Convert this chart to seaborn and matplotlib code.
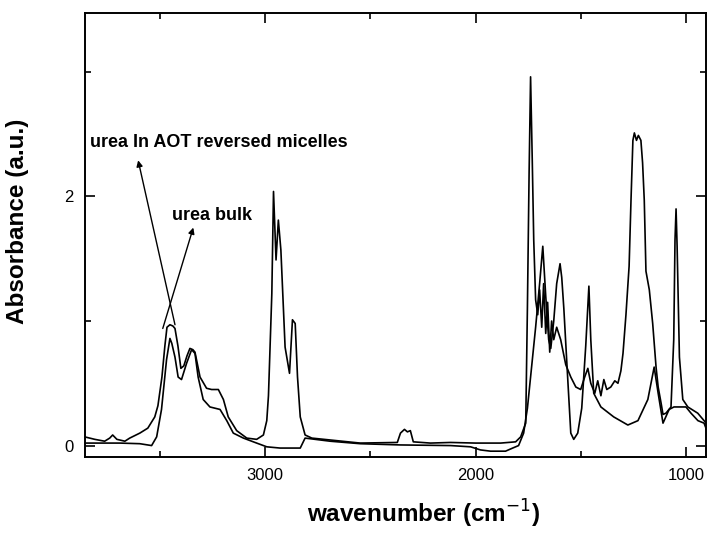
import numpy as np
import pandas as pd
import matplotlib
matplotlib.use("Agg")
import matplotlib.pyplot as plt
from matplotlib.ticker import FixedLocator
import seaborn as sns

# ======================================
#   DATA
# ======================================
# urea in AOT reversed micelles
wn_micelles = [3857, 3809, 3762, 3738, 3724, 3704, 3666, 3643, 3595, 3557,
               3524, 3509, 3490, 3476, 3466, 3452, 3438, 3428, 3414, 3400,
               3386, 3371, 3357, 3343, 3333, 3309, 3278, 3254, 3222, 3198,
               3175, 3135, 3087, 3040, 3008, 2992, 2984, 2968, 2960, 2948,
               2937, 2925, 2905, 2884, 2870, 2857, 2846, 2833, 2810, 2778,
               2691, 2548, 2372, 2357, 2338, 2324, 2310, 2296, 2215, 2119,
               2000, 1881, 1810, 1786, 1762, 1754, 1746, 1739, 1731, 1724,
               1715, 1705, 1696, 1686, 1677, 1667, 1658, 1648, 1639, 1629,
               1615, 1596, 1572, 1548, 1524, 1501, 1482, 1467, 1453, 1434,
               1420, 1405, 1391, 1377, 1358, 1339, 1324, 1310, 1300, 1286,
               1271, 1262, 1253, 1246, 1236, 1227, 1215, 1207, 1199, 1191,
               1175, 1159, 1143, 1133, 1119, 1110, 1096, 1072, 1059, 1053,
               1048, 1043, 1038, 1032, 1016, 992, 945, 905]
abs_micelles = [0.07, 0.05, 0.035, 0.06, 0.085, 0.05, 0.035, 0.06, 0.10, 0.14,
                0.23, 0.32, 0.55, 0.80, 0.95, 0.97, 0.96, 0.94, 0.80, 0.62,
                0.64, 0.72, 0.78, 0.77, 0.75, 0.55, 0.46, 0.45, 0.45, 0.37,
                0.23, 0.12, 0.06, 0.05, 0.085, 0.20, 0.40, 1.22, 2.04, 1.49,
                1.81, 1.57, 0.79, 0.58, 1.01, 0.98, 0.55, 0.23, 0.085, 0.06,
                0.045, 0.02, 0.025, 0.10, 0.13, 0.11, 0.12, 0.03, 0.02, 0.025,
                0.02, 0.02, 0.03, 0.07, 0.18, 1.11, 2.19, 2.96, 2.29, 1.65,
                1.17, 1.05, 1.25, 0.95, 1.30, 0.90, 1.15, 0.75, 1.00, 0.85,
                0.95, 0.85, 0.65, 0.55, 0.47, 0.45, 0.55, 0.62, 0.50, 0.42,
                0.52, 0.40, 0.53, 0.45, 0.47, 0.52, 0.50, 0.60, 0.74, 1.05,
                1.44, 1.97, 2.45, 2.51, 2.45, 2.49, 2.45, 2.27, 1.97, 1.40,
                1.25, 0.98, 0.63, 0.47, 0.34, 0.25, 0.26, 0.31, 0.85, 1.65,
                1.90, 1.60, 1.20, 0.71, 0.37, 0.31, 0.26, 0.18]

# urea bulk
wn_bulk = [3857, 3690, 3595, 3539, 3515, 3492, 3468, 3452, 3443, 3428,
           3413, 3397, 3373, 3349, 3333, 3318, 3294, 3262, 3214, 3182,
           3151, 3103, 3040, 2992, 2929, 2833, 2810, 2691, 2548, 2357,
           2119, 2024, 1977, 1929, 1858, 1824, 1796, 1772, 1754, 1739,
           1715, 1696, 1681, 1667, 1653, 1643, 1629, 1615, 1599, 1591,
           1581, 1564, 1548, 1534, 1515, 1496, 1477, 1462, 1453, 1439,
           1405, 1344, 1277, 1229, 1182, 1152, 1133, 1110, 1081, 1058,
           1001, 977, 944, 915, 897]
abs_bulk = [0.02, 0.02, 0.015, 0.0, 0.07, 0.29, 0.69, 0.86, 0.82, 0.71,
            0.55, 0.53, 0.66, 0.77, 0.74, 0.55, 0.37, 0.31, 0.29, 0.20,
            0.10, 0.06, 0.02, -0.01, -0.02, -0.02, 0.06, 0.035, 0.015, 0.005,
            0.0, -0.01, -0.035, -0.045, -0.045, -0.02, 0.0, 0.10, 0.30, 0.55,
            0.95, 1.30, 1.60, 1.20, 0.85, 0.78, 1.00, 1.30, 1.46, 1.35,
            1.10, 0.58, 0.10, 0.05, 0.10, 0.30, 0.80, 1.28, 0.85, 0.42,
            0.31, 0.23, 0.165, 0.20, 0.37, 0.63, 0.42, 0.18, 0.29, 0.31,
            0.31, 0.26, 0.20, 0.18, 0.10]

x_ticks = [3000, 2000, 1000]
x_minor = [3500, 2500, 1500]
y_ticks = [0, 2]
y_minor = [1, 3]

df_mic = pd.DataFrame({"wavenumber": wn_micelles, "absorbance": abs_micelles})
df_bulk = pd.DataFrame({"wavenumber": wn_bulk, "absorbance": abs_bulk})

# ======================================
#   STYLE
# ======================================
sns.set_style("ticks")
plt.rcParams["font.family"] = ["Liberation Sans", "DejaVu Sans"]
plt.rcParams["text.color"] = "black"
plt.rcParams["axes.labelcolor"] = "black"
plt.rcParams["xtick.color"] = "black"
plt.rcParams["ytick.color"] = "black"
plt.rcParams["xtick.direction"] = "in"
plt.rcParams["ytick.direction"] = "in"

fig = plt.figure(figsize=(7.09, 5.33), dpi=100)
ax = fig.add_axes([0.12, 0.143, 0.876, 0.832])

# ======================================
#   PLOT
# ======================================
sns.lineplot(data=df_mic, x="wavenumber", y="absorbance", ax=ax,
             color="black", linewidth=1.2, estimator=None)
sns.lineplot(data=df_bulk, x="wavenumber", y="absorbance", ax=ax,
             color="black", linewidth=1.2, estimator=None)

ax.set_xlim(3855, 905)
ax.set_ylim(-0.09, 3.47)

ax.xaxis.set_major_locator(FixedLocator(x_ticks))
ax.xaxis.set_minor_locator(FixedLocator(x_minor))
ax.yaxis.set_major_locator(FixedLocator(y_ticks))
ax.yaxis.set_minor_locator(FixedLocator(y_minor))
ax.tick_params(which="both", top=True, right=True, labelsize=12, width=1.2)
ax.tick_params(which="major", length=7, pad=8)
ax.tick_params(which="minor", length=4)

for sp in ax.spines.values():
    sp.set_linewidth(1.4)
    sp.set_color("black")

ax.set_xlabel("wavenumber (cm$^{-1}$)", fontsize=17.5, fontweight="bold")
ax.xaxis.set_label_coords(0.545, -0.092)
ax.set_ylabel("Absorbance (a.u.)", fontsize=17.5, fontweight="bold")
ax.yaxis.set_label_coords(-0.09, 0.53)

# ======================================
#   ANNOTATIONS
# ======================================
ax.text(3833, 2.43, "urea In AOT reversed micelles", fontsize=13,
        fontweight="bold", ha="left", va="center")
ax.text(3443, 1.85, "urea bulk", fontsize=13, fontweight="bold",
        ha="left", va="center")

arrow = dict(arrowstyle="-|>", color="black", lw=1.0, mutation_scale=9,
             shrinkA=0, shrinkB=0)
ax.annotate("", xy=(3603, 2.29), xytext=(3428, 0.97), arrowprops=arrow)
ax.annotate("", xy=(3341, 1.75), xytext=(3486, 0.94), arrowprops=arrow)

fig.savefig("out.png", dpi=100)
